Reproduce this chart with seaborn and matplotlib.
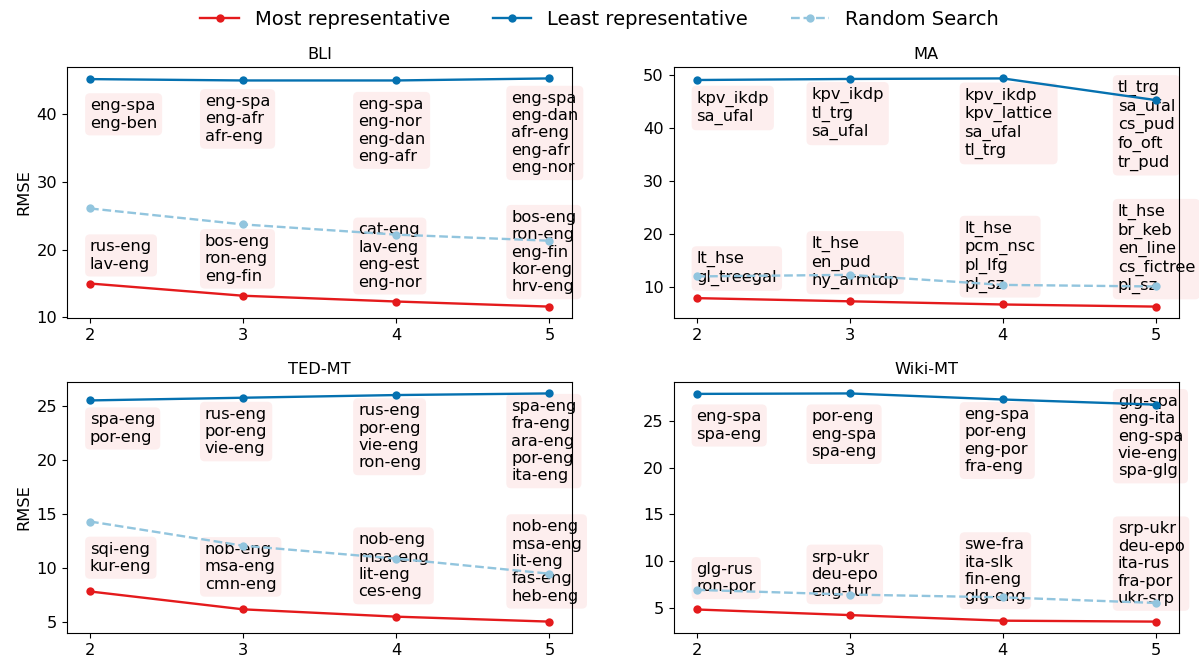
import numpy as np
import pandas as pd
import matplotlib
matplotlib.use("Agg")
import matplotlib.pyplot as plt
from matplotlib.ticker import MultipleLocator
import seaborn as sns

plt.rcParams["font.family"] = ["DejaVu Sans"]
plt.rcParams["font.size"] = 11.7

# data
ks = [2, 3, 4, 5]
panels = ["BLI", "MA", "TED-MT", "Wiki-MT"]

most_bli = [15.0, 13.2, 12.35, 11.6]
least_bli = [45.1, 44.9, 44.9, 45.2]
random_bli = [26.05, 23.7, 22.2, 21.3]

most_ma = [7.9, 7.3, 6.7, 6.3]
least_ma = [49.1, 49.3, 49.4, 45.3]
random_ma = [12.0, 12.3, 10.4, 10.1]

most_ted = [7.8, 6.14, 5.46, 5.0]
least_ted = [25.55, 25.8, 26.05, 26.2]
random_ted = [14.3, 12.05, 10.85, 9.45]

most_wiki = [4.8, 4.2, 3.6, 3.5]
least_wiki = [27.9, 27.95, 27.3, 26.75]
random_wiki = [6.9, 6.4, 6.1, 5.5]

# language pairs / treebanks picked at each k
least_labels_bli = [
    ["eng-spa", "eng-ben"],
    ["eng-spa", "eng-afr", "afr-eng"],
    ["eng-spa", "eng-nor", "eng-dan", "eng-afr"],
    ["eng-spa", "eng-dan", "afr-eng", "eng-afr", "eng-nor"],
]
most_labels_bli = [
    ["rus-eng", "lav-eng"],
    ["bos-eng", "ron-eng", "eng-fin"],
    ["cat-eng", "lav-eng", "eng-est", "eng-nor"],
    ["bos-eng", "ron-eng", "eng-fin", "kor-eng", "hrv-eng"],
]
least_labels_ma = [
    ["kpv_ikdp", "sa_ufal"],
    ["kpv_ikdp", "tl_trg", "sa_ufal"],
    ["kpv_ikdp", "kpv_lattice", "sa_ufal", "tl_trg"],
    ["tl_trg", "sa_ufal", "cs_pud", "fo_oft", "tr_pud"],
]
most_labels_ma = [
    ["lt_hse", "gl_treegal"],
    ["lt_hse", "en_pud", "hy_armtdp"],
    ["lt_hse", "pcm_nsc", "pl_lfg", "pl_sz"],
    ["lt_hse", "br_keb", "en_line", "cs_fictree", "pl_sz"],
]
least_labels_ted = [
    ["spa-eng", "por-eng"],
    ["rus-eng", "por-eng", "vie-eng"],
    ["rus-eng", "por-eng", "vie-eng", "ron-eng"],
    ["spa-eng", "fra-eng", "ara-eng", "por-eng", "ita-eng"],
]
most_labels_ted = [
    ["sqi-eng", "kur-eng"],
    ["nob-eng", "msa-eng", "cmn-eng"],
    ["nob-eng", "msa-eng", "lit-eng", "ces-eng"],
    ["nob-eng", "msa-eng", "lit-eng", "fas-eng", "heb-eng"],
]
least_labels_wiki = [
    ["eng-spa", "spa-eng"],
    ["por-eng", "eng-spa", "spa-eng"],
    ["eng-spa", "por-eng", "eng-por", "fra-eng"],
    ["glg-spa", "eng-ita", "eng-spa", "vie-eng", "spa-glg"],
]
most_labels_wiki = [
    ["glg-rus", "ron-por"],
    ["srp-ukr", "deu-epo", "eng-tur"],
    ["swe-fra", "ita-slk", "fin-eng", "glg-eng"],
    ["srp-ukr", "deu-epo", "ita-rus", "fra-por", "ukr-srp"],
]

# label placement (text top / text bottom, data units)
least_top_y = {
    "BLI": [42.3, 42.9, 42.5, 43.4],
    "MA": [47.1, 47.8, 47.7, 49.1],
    "TED-MT": [24.45, 24.97, 25.3, 25.7],
    "Wiki-MT": [26.25, 26.25, 26.5, 27.9],
}
most_bottom_y = {
    "BLI": [16.75, 14.97, 14.1, 13.4],
    "MA": [10.2, 9.55, 8.93, 8.6],
    "TED-MT": [9.43, 7.77, 7.06, 6.66],
    "Wiki-MT": [6.42, 5.89, 5.35, 5.18],
}

series = {
    "BLI": (most_bli, least_bli, random_bli, most_labels_bli, least_labels_bli),
    "MA": (most_ma, least_ma, random_ma, most_labels_ma, least_labels_ma),
    "TED-MT": (most_ted, least_ted, random_ted, most_labels_ted, least_labels_ted),
    "Wiki-MT": (most_wiki, least_wiki, random_wiki, most_labels_wiki, least_labels_wiki),
}

c_most = "#e41a1c"
c_least = "#0571b0"
c_random = "#92c5de"
box = dict(boxstyle="round,pad=0.3", facecolor="#fdeeee", edgecolor="none")

fig, axes = plt.subplots(2, 2, figsize=(11.99, 6.57), dpi=100)
fig.subplots_adjust(left=0.0559, right=0.9833, top=0.898, bottom=0.0365,
                    wspace=0.2, hspace=0.255)

for ax, name in zip(axes.flat, panels):
    most, least, rand, most_lab, least_lab = series[name]
    sns.lineplot(x=ks, y=most, ax=ax, color=c_most, marker="o", markersize=6,
                 markeredgewidth=0, linewidth=1.7, label="Most representative", legend=False)
    sns.lineplot(x=ks, y=least, ax=ax, color=c_least, marker="o", markersize=6,
                 markeredgewidth=0, linewidth=1.7, label="Least representative", legend=False)
    sns.lineplot(x=ks, y=rand, ax=ax, color=c_random, marker="o", markersize=6,
                 markeredgewidth=0, linewidth=1.7, linestyle="--", label="Random Search",
                 legend=False)

    for i, k in enumerate(ks):
        tx = k if i == 0 else k - 0.25
        ax.text(tx, least_top_y[name][i], "\n".join(least_lab[i]), ha="left", va="top",
                bbox=box, zorder=1)
        ax.text(tx, most_bottom_y[name][i], "\n".join(most_lab[i]), ha="left", va="bottom",
                bbox=box, zorder=1)

    ax.set_xticks(ks)
    ax.set_title(name, fontsize=11.7)
    ax.set_xlabel("")
    ax.set_ylabel("")

axes[0, 0].yaxis.set_major_locator(MultipleLocator(10))
axes[0, 0].set_ylabel("RMSE")
axes[1, 0].set_ylabel("RMSE")

handles, labels = axes[0, 0].get_legend_handles_labels()
fig.legend(handles, labels, loc="upper center", bbox_to_anchor=(0.5, 1.012), ncol=3,
           frameon=False, fontsize=14, columnspacing=2.2)

fig.savefig("out.png", dpi=100)
